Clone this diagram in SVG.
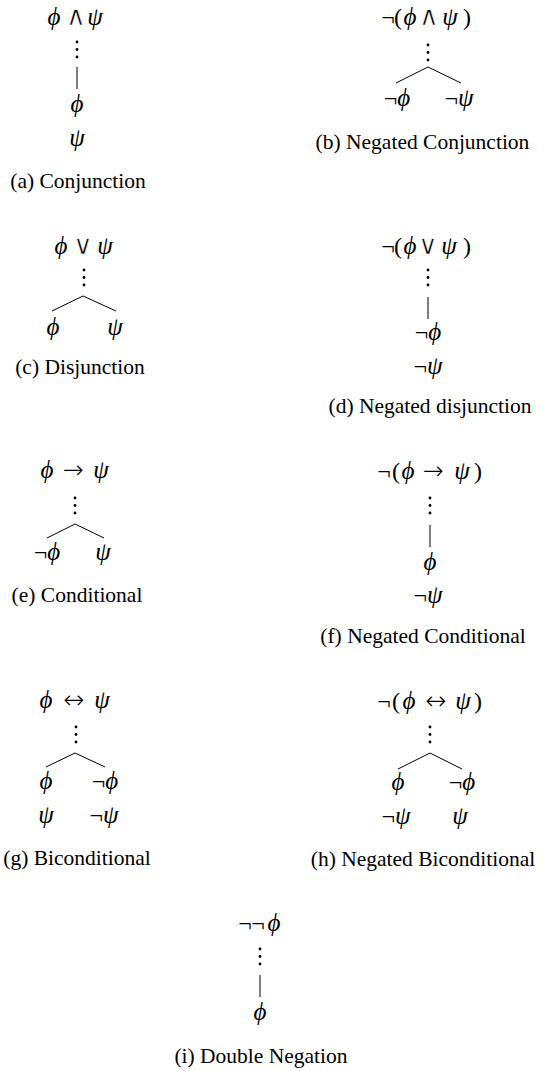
<svg xmlns="http://www.w3.org/2000/svg" width="544" height="1071" viewBox="0 0 544 1071">
<style>
text { font-family: "Liberation Serif", "DejaVu Serif", serif; font-size: 24px; fill: #000; text-anchor: middle; }
.v { font-style: italic; font-size: 25px; }
.op { font-family: "DejaVu Sans", serif; font-size: 27px; stroke: #fff; stroke-width: 0.7px; }
.ar { font-family: "DejaVu Sans", serif; font-weight: 200; font-size: 25px; }
.cap { font-size: 21.5px; }
.ln { stroke: #000; stroke-width: 1; fill: none; }
.dot { fill: #000; }
</style>
<rect width="544" height="1071" fill="#fff"/>
<defs>
<g id="vdots"><circle class="dot" cx="0" cy="0" r="1.4"/><circle class="dot" cx="0" cy="7.5" r="1.4"/><circle class="dot" cx="0" cy="15" r="1.4"/></g>
</defs>

<!-- (a) -->
<g id="a-root"><text x="54" y="25" class="v">ϕ</text><text x="76" y="25" class="op">∧</text><text x="95" y="25" class="v">ψ</text></g>
<g id="a-phi"><text x="77" y="112" class="v">ϕ</text></g>
<g id="a-psi"><text x="77" y="146" class="v">ψ</text></g>
<g id="a-caption"><text x="78" y="188" class="cap">(a) Conjunction</text></g>

<!-- (b) -->
<g id="b-root"><text x="388" y="25">¬</text><text x="398" y="25">(</text><text x="410" y="25" class="v">ϕ</text><text x="429" y="25" class="op">∧</text><text x="450" y="25" class="v">ψ</text><text x="467" y="25">)</text></g>
<g id="b-left"><text x="397" y="106">¬<tspan class="v">ϕ</tspan></text></g>
<g id="b-right"><text x="459" y="106">¬<tspan class="v">ψ</tspan></text></g>
<g id="b-caption"><text x="422.5" y="149" class="cap">(b) Negated Conjunction</text></g>

<!-- (c) -->
<g id="c-root"><text x="61" y="254" class="v">ϕ</text><text x="83" y="254" class="op">∨</text><text x="105" y="254" class="v">ψ</text></g>
<g id="c-left"><text x="53" y="335" class="v">ϕ</text></g>
<g id="c-right"><text x="115" y="335" class="v">ψ</text></g>
<g id="c-caption"><text x="80" y="374" class="cap">(c) Disjunction</text></g>

<!-- (d) -->
<g id="d-root"><text x="388" y="254">¬</text><text x="398" y="254">(</text><text x="410" y="254" class="v">ϕ</text><text x="428" y="254" class="op">∨</text><text x="449" y="254" class="v">ψ</text><text x="467" y="254">)</text></g>
<g id="d-phi"><text x="428" y="340">¬<tspan class="v">ϕ</tspan></text></g>
<g id="d-psi"><text x="428" y="374">¬<tspan class="v">ψ</tspan></text></g>
<g id="d-caption"><text x="430" y="413" class="cap">(d) Negated disjunction</text></g>

<!-- (e) -->
<g id="e-root"><text x="47" y="478" class="v">ϕ</text><text x="73" y="478" class="ar">→</text><text x="101" y="478" class="v">ψ</text></g>
<g id="e-left"><text x="47" y="560">¬<tspan class="v">ϕ</tspan></text></g>
<g id="e-right"><text x="103" y="560" class="v">ψ</text></g>
<g id="e-caption"><text x="77" y="602" class="cap">(e) Conditional</text></g>

<!-- (f) -->
<g id="f-root"><text x="384" y="479">¬</text><text x="396" y="479">(</text><text x="408" y="479" class="v">ϕ</text><text x="433" y="479" class="ar">→</text><text x="462" y="479" class="v">ψ</text><text x="478" y="479">)</text></g>
<g id="f-phi"><text x="430" y="570" class="v">ϕ</text></g>
<g id="f-psi"><text x="428" y="603">¬<tspan class="v">ψ</tspan></text></g>
<g id="f-caption"><text x="423" y="643" class="cap">(f) Negated Conditional</text></g>

<!-- (g) -->
<g id="g-root"><text x="46" y="708" class="v">ϕ</text><text x="74" y="708" class="ar">↔</text><text x="102" y="708" class="v">ψ</text></g>
<g id="g-left"><text x="46" y="789" class="v">ϕ</text><text x="46" y="823" class="v">ψ</text></g>
<g id="g-right"><text x="105" y="789">¬<tspan class="v">ϕ</tspan></text><text x="104" y="823">¬<tspan class="v">ψ</tspan></text></g>
<g id="g-caption"><text x="77" y="865" class="cap">(g) Biconditional</text></g>

<!-- (h) -->
<g id="h-root"><text x="384" y="709">¬</text><text x="396" y="709">(</text><text x="409" y="709" class="v">ϕ</text><text x="436" y="709" class="ar">↔</text><text x="463" y="709" class="v">ψ</text><text x="478" y="709">)</text></g>
<g id="h-left"><text x="398" y="790" class="v">ϕ</text><text x="396" y="824">¬<tspan class="v">ψ</tspan></text></g>
<g id="h-right"><text x="462" y="790">¬<tspan class="v">ϕ</tspan></text><text x="460" y="824" class="v">ψ</text></g>
<g id="h-caption"><text x="423" y="866" class="cap">(h) Negated Biconditional</text></g>

<!-- (i) -->
<g id="i-root"><text x="245" y="931">¬</text><text x="258" y="931">¬</text><text x="274" y="931" class="v">ϕ</text></g>
<g id="i-phi"><text x="260" y="1020" class="v">ϕ</text></g>
<g id="i-caption"><text x="261" y="1063" class="cap">(i) Double Negation</text></g>

<!-- connectors -->
<g id="connectors">
<use href="#vdots" x="77" y="42"/>
<line class="ln" x1="77" y1="67" x2="77" y2="89"/>
<use href="#vdots" x="428" y="45"/>
<polyline class="ln" points="396,83 428,67 461,83"/>
<use href="#vdots" x="84" y="270"/>
<polyline class="ln" points="52,311 83,296 116,311"/>
<use href="#vdots" x="428" y="270"/>
<line class="ln" x1="428" y1="297" x2="428" y2="319"/>
<use href="#vdots" x="75" y="498"/>
<polyline class="ln" points="47,538 75,524 104,538"/>
<use href="#vdots" x="430" y="498"/>
<line class="ln" x1="430" y1="525" x2="430" y2="547"/>
<use href="#vdots" x="76" y="727"/>
<polyline class="ln" points="46,767 75,753 105,767"/>
<use href="#vdots" x="430" y="727"/>
<polyline class="ln" points="398,769 430,753 462,769"/>
<use href="#vdots" x="260" y="949"/>
<line class="ln" x1="260" y1="975" x2="260" y2="997"/>
</g>
</svg>
